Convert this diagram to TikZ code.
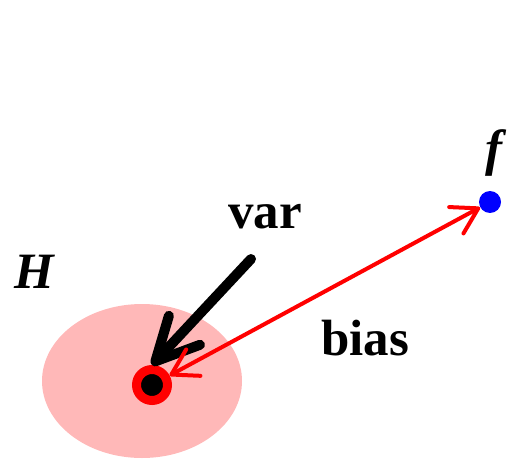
\documentclass[tikz,border=0pt]{standalone}
\usepackage{fontspec}
\setmainfont{Liberation Serif}
\usepackage{tikz}
\usetikzlibrary{arrows.meta}

\begin{document}
\begin{tikzpicture}[x=0.02cm, y=-0.02cm,
        rotulo/.style={font=\fontsize{29}{31}\selectfont\bfseries, inner sep=0pt, anchor=base}]
        \colorlet{fondoH}{red!28}
        \useasboundingbox (0,0) rectangle (516,459);
        \fill[fondoH] (142,381) ellipse (100 and 77);
        \node[circle, fill=black, draw=red, line width=0.18cm, minimum size=0.62cm, inner sep=0pt] (g) at (152,385) {};
        \node[circle, fill=blue, minimum size=0.44cm, inner sep=0pt] (f) at (490,202) {};
        \coordinate (v) at (251,259);
        \draw[line width=0.2cm, line cap=round, -{Straight Barb[round, length=0.85cm, width=0.85cm]}] (v) -- (g.north);
        \draw[red, line width=0.08cm, {Straight Barb[round, length=0.5cm, width=0.6cm]}-{Straight Barb[round, length=0.5cm, width=0.6cm]}] (g) -- (f);
        \node[rotulo] (varlabel) at (265,228) {var};
        \node[rotulo] (biaslabel) at (365,355) {bias};
        \node[rotulo, font=\fontsize{29}{31}\selectfont\bfseries\itshape] (hlabel) at (34,288) {H};
        \node[rotulo, font=\fontsize{29}{31}\selectfont\bfseries\itshape] (flabel) at (494,165) {f};
    \end{tikzpicture}
\end{document}
